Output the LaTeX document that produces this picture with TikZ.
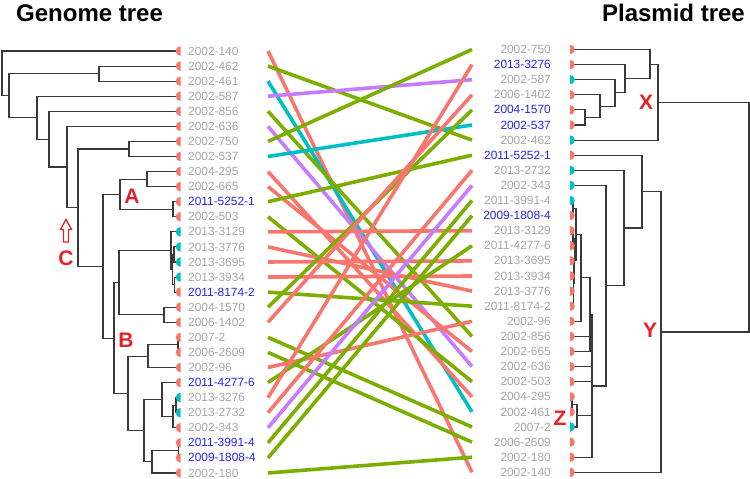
\documentclass[tikz,border=0pt]{standalone}
\usepackage{fontspec}
\setmainfont{Liberation Sans}
\definecolor{sal}{HTML}{F8766D}
\definecolor{grn}{HTML}{7CAE00}
\definecolor{cya}{HTML}{00BFC4}
\definecolor{pur}{HTML}{C77CFF}
\definecolor{lgrey}{HTML}{A6A6A6}
\definecolor{lblue}{HTML}{2424F0}
\definecolor{mkred}{HTML}{E8202A}
\definecolor{treecol}{HTML}{3A3A3A}
\begin{document}
\begin{tikzpicture}[x=1pt,y=-1pt,
  tree/.style={draw=treecol,line width=1.1pt},
  link/.style={line width=3.6pt},
  lab/.style={font=\fontsize{11.9}{12}\selectfont,inner sep=0pt},
  title/.style={font=\bfseries\fontsize{24}{24}\selectfont,inner sep=0pt},
  cladelab/.style={font=\bfseries\fontsize{21}{21}\selectfont,text=mkred,inner sep=0pt}]
\useasboundingbox (0,0) rectangle (750,479);

% titles
\node[title,anchor=base west] (tg) at (16,21.5) {Genome tree};
\node[title,anchor=base east] (tp) at (745,21.5) {Plasmid tree};

% left tree
\draw[tree] (179,51) -| (2,95.65) -- (9,95.65);
\draw[tree] (99,73.6) -| (9,117.7) -- (37,117.7);
\draw[tree] (179,66.1) -| (99,81.1) -- (179,81.1);
\draw[tree] (179,96.2) -| (37,139.15) -- (49,139.15);
\draw[tree] (179,111.3) -| (49,167) -- (67,167);
\draw[tree] (179,126.4) -| (67,207.55) -- (78,207.55);
\draw[tree] (129,149) -| (78,266.1) -- (103,266.1);
\draw[tree] (179,141.4) -| (129,156.5) -- (179,156.5);
\draw[tree] (120,194.2) -| (103,338.05) -- (114,338.05);
\draw[tree] (147,179.1) -| (120,209.25) -- (173,209.25);
\draw[tree] (179,171.6) -| (147,186.6) -- (179,186.6);
\draw[tree] (179,201.7) -| (173,216.8) -- (179,216.8);
\draw[tree] (119,282.7) -| (114,393.4) -- (128,393.4);
\draw[tree] (171,250.65) -| (119,314.75) -- (164,314.75);
\draw[tree] (179,231.8) -| (171,269.5) -- (172.5,269.5);
\draw[tree] (174,254.45) -| (172.5,284.6) -- (174.5,284.6);
\draw[tree] (179,246.9) -| (174,262) -- (179,262);
\draw[tree] (179,277.1) -| (174.5,292.1) -- (179,292.1);
\draw[tree] (179,307.2) -| (164,322.3) -- (179,322.3);
\draw[tree] (148,356.2) -| (128,430.6) -- (144,430.6);
\draw[tree] (178,344.85) -| (148,367.5) -- (179,367.5);
\draw[tree] (179,337.3) -| (178,352.4) -- (179,352.4);
\draw[tree] (162,399.5) -| (144,461.7) -- (152,461.7);
\draw[tree] (179,382.5) -| (162,416.5) -- (173,416.5);
\draw[tree] (176,405.15) -| (173,427.8) -- (179,427.8);
\draw[tree] (179,397.6) -| (176,412.7) -- (179,412.7);
\draw[tree] (179,450.35) -| (152,473) -- (179,473);
\draw[tree] (178.5,442.8) -- (178.5,457.9);

% right tree
\draw[tree] (570,109.9) -| (585,125) -- (570,125);
\draw[tree] (570,94.8) -| (600,117.45) -- (585,117.45);
\draw[tree] (570,79.7) -| (615,106.1) -- (600,106.1);
\draw[tree] (570,64.6) -| (625,92.9) -- (615,92.9);
\draw[tree] (570,49.5) -| (650,78.75) -- (625,78.75);
\draw[tree] (650,64.1) -| (658,140.1) -- (570,140.1);
\draw[tree] (658,102.1) -| (749,331.95) -- (661,331.95);
\draw[tree] (570,200.5) -| (573,215.6) -- (570,215.6);
\draw[tree] (570,230.7) -| (573,245.8) -- (570,245.8);
\draw[tree] (570,260.9) -| (573.5,306.2) -- (570,306.2);
\draw[tree] (570,276) -- (573.5,276);
\draw[tree] (570,291.1) -- (573.5,291.1);
\draw[tree] (573,238.25) -| (574.5,283.55) -- (573.5,283.55);
\draw[tree] (573,208.05) -| (576,260.9) -- (574.5,260.9);
\draw[tree] (576,234.5) -| (581,321.3) -- (570,321.3);
\draw[tree] (581,277.9) -| (590,351.5) -- (570,351.5);
\draw[tree] (570,336.4) -- (590,336.4);
\draw[tree] (570,396.8) -| (572,411.9) -- (570,411.9);
\draw[tree] (572,404.35) -| (577,427) -- (570,427);
\draw[tree] (590,314.7) -| (592,457.2) -- (570,457.2);
\draw[tree] (570,366.6) -- (592,366.6);
\draw[tree] (570,381.7) -- (592,381.7);
\draw[tree] (577,415.7) -- (592,415.7);
\draw[tree] (570,185.4) -| (606,385.95) -- (592,385.95);
\draw[tree] (570,170.3) -| (624,285.7) -- (606,285.7);
\draw[tree] (570,155.2) -| (642,228) -- (624,228);
\draw[tree] (642,191.6) -| (661,472.3) -- (570,472.3);

% left tips and labels
\begin{scope}
\clip (170,40) rectangle (180.5,479);
\foreach \i/\m in {0/sal,1/sal,2/sal,3/sal,4/sal,5/sal,6/sal,7/sal,8/sal,9/sal,10/sal,11/sal,
  12/cya,13/cya,14/cya,15/cya,16/sal,17/sal,18/sal,19/sal,20/sal,21/sal,22/sal,23/cya,24/cya,
  25/sal,26/sal,27/sal,28/sal}
  \fill[\m] (180.5,{51+15.07*\i}) circle[radius=4.8pt];
\end{scope}
\foreach \i/\t/\c in {0/2002-140/lgrey,1/2002-462/lgrey,2/2002-461/lgrey,3/2002-587/lgrey,
  4/2002-856/lgrey,5/2002-636/lgrey,6/2002-750/lgrey,7/2002-537/lgrey,8/2004-295/lgrey,
  9/2002-665/lgrey,10/2011-5252-1/lblue,11/2002-503/lgrey,12/2013-3129/lgrey,
  13/2013-3776/lgrey,14/2013-3695/lgrey,15/2013-3934/lgrey,16/2011-8174-2/lblue,
  17/2004-1570/lgrey,18/2006-1402/lgrey,19/2007-2/lgrey,20/2006-2609/lgrey,21/2002-96/lgrey,
  22/2011-4277-6/lblue,23/2013-3276/lgrey,24/2013-2732/lgrey,25/2002-343/lgrey,
  26/2011-3991-4/lblue,27/2009-1808-4/lblue,28/2002-180/lgrey}
{
  \node[lab,anchor=west,text=\c] (LT\i) at (188,{51+15.07*\i}) {\t};
  \coordinate (L\i) at (268,{51+15.07*\i});
}

% right tips and labels
\begin{scope}
\clip (570,40) rectangle (580,479);
\foreach \j/\m in {0/sal,1/sal,2/cya,3/sal,4/sal,5/sal,6/cya,7/sal,8/cya,9/cya,10/cya,11/sal,
  12/sal,13/sal,14/sal,15/sal,16/sal,17/sal,18/sal,19/sal,20/sal,21/sal,22/sal,23/sal,24/sal,
  25/cya,26/sal,27/sal,28/sal}
  \fill[\m] (570,{49.5+15.1*\j}) circle[radius=4.8pt];
\end{scope}
\foreach \j/\t/\c in {0/2002-750/lgrey,1/2013-3276/lblue,2/2002-587/lgrey,3/2006-1402/lgrey,
  4/2004-1570/lblue,5/2002-537/lblue,6/2002-462/lgrey,7/2011-5252-1/lblue,8/2013-2732/lgrey,
  9/2002-343/lgrey,10/2011-3991-4/lgrey,11/2009-1808-4/lblue,12/2013-3129/lgrey,
  13/2011-4277-6/lgrey,14/2013-3695/lgrey,15/2013-3934/lgrey,16/2013-3776/lgrey,
  17/2011-8174-2/lgrey,18/2002-96/lgrey,19/2002-856/lgrey,20/2002-665/lgrey,21/2002-636/lgrey,
  22/2002-503/lgrey,23/2004-295/lgrey,24/2002-461/lgrey,25/2007-2/lgrey,26/2006-2609/lgrey,
  27/2002-180/lgrey,28/2002-140/lgrey}
{
  \node[lab,anchor=east,text=\c] (RT\j) at (551,{49.5+15.1*\j}) {\t};
  \coordinate (R\j) at (472,{49.5+15.1*\j});
}

% tangle links
\foreach \i/\j/\c in {0/28/sal,1/6/grn,2/24/cya,3/2/pur,4/19/grn,5/21/pur,6/0/grn,7/5/cya,
  8/23/sal,9/20/sal,10/7/grn,11/22/grn,12/12/sal,13/16/sal,14/14/sal,15/15/sal,16/17/grn,
  17/4/grn,18/3/sal,19/25/grn,20/26/grn,21/18/sal,22/13/grn,23/1/sal,24/8/sal,25/9/pur,
  26/10/grn,27/11/grn,28/27/grn}
  \draw[link,\c] (L\i) -- (R\j);

% clade marks
\node[cladelab] (mA) at (132,196) {A};
\node[cladelab] (mB) at (126,340) {B};
\node[cladelab] (mC) at (66,258) {C};
\node[cladelab] (mX) at (646,102) {X};
\node[cladelab] (mY) at (650,330) {Y};
\node[cladelab] (mZ) at (560,418) {Z};
\draw[mkred,line width=1.3pt,line join=miter] (63.5,242) -- (63.5,229.5) -- (60.5,229.5)
  -- (66,219.5) -- (71.5,229.5) -- (68.5,229.5) -- (68.5,242) -- cycle;
\end{tikzpicture}
\end{document}
